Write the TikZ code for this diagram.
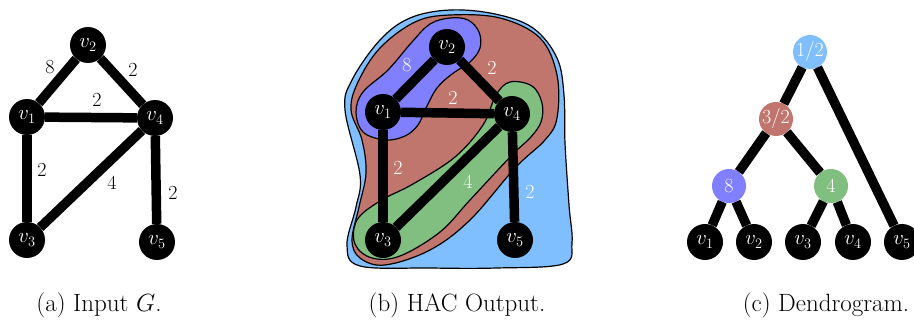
\documentclass[tikz,border=0pt]{standalone}
\usetikzlibrary{calc}
\definecolor{cblue}{HTML}{80BFFF}
\definecolor{cred}{HTML}{C0766C}
\definecolor{cpurp}{HTML}{7F7FFF}
\definecolor{cgreen}{HTML}{80BF7F}
\tikzset{
  vert/.style={circle, fill=black, minimum size=36pt, inner sep=0pt, text=white, font=\fontsize{21}{21}\selectfont},
  dnode/.style={circle, minimum size=34pt, inner sep=0pt, text=white, font=\fontsize{20}{20}\selectfont},
  ebar/.style={line width=9.5pt},
  elab/.style={font=\fontsize{20}{20}\selectfont, inner sep=0pt},
  wlab/.style={elab, text=white},
  region/.style={draw=black, line width=1.2pt},
  captext/.style={font=\fontsize{25}{28}\selectfont, inner sep=0pt}
}
\begin{document}
\begin{tikzpicture}[x=1pt, y=-1pt]
\useasboundingbox (0,0) rectangle (914,326);
% ---------- (a) ----------
\node[vert] (a2) at (88,45) {$v_2$};
\node[vert] (a1) at (27,117) {$v_1$};
\node[vert] (a4) at (155,118) {$v_4$};
\node[vert] (a3) at (27,240) {$v_3$};
\node[vert] (a5) at (157,242) {$v_5$};
\draw[ebar] (a1) -- (a2);
\draw[ebar] (a2) -- (a4);
\draw[ebar] (a1) -- (a4);
\draw[ebar] (a1) -- (a3);
\draw[ebar] (a3) -- (a4);
\draw[ebar] (a4) -- (a5);
\node[elab] (la8) at (50,67) {8};
\node[elab] (la24) at (133,70) {2};
\node[elab] (la14) at (97,100) {2};
\node[elab] (la13) at (42,170) {2};
\node[elab] (la34) at (112,183) {4};
\node[elab] (la45) at (173,193) {2};
% ---------- (b) ----------
\draw[region, fill=cblue] plot[smooth cycle, tension=0.6] coordinates {
 (450,10) (495,14) (533,28) (557,58) (564,95) (565,143) (569,205) (572,243)
 (563,264) (497,268) (430,268) (360,266) (347,245) (356,207) (360,175)
 (345,110) (352,80) (380,40) (410,18)};
\draw[region, fill=cred] plot[smooth cycle, tension=0.6] coordinates {
 (450,15) (500,18) (540,38) (557,75) (557,118) (545,140) (515,168)
 (470,220) (430,250) (385,265) (360,258) (352,240) (359,207) (366,173)
 (362,140) (351,110) (358,82) (380,48) (415,22)};
\draw[region, fill=cpurp] plot[smooth cycle, tension=0.6] coordinates {
 (450,18) (468,20) (479,32) (480,48) (470,62) (452,74) (437,88) (426,108)
 (418,125) (405,136) (385,140) (363,132) (356,112) (363,92) (388,70)
 (412,42) (430,24)};
\draw[region, fill=cgreen] plot[smooth cycle, tension=0.6] coordinates {
 (510,82) (532,86) (542,103) (541,122) (530,138) (512,155) (470,200)
 (440,232) (400,256) (372,258) (355,244) (357,220) (380,201) (413,184)
 (455,157) (483,125) (496,95)};
\node[vert] (b2) at (447,47) {$v_2$};
\node[vert] (b1) at (383,112) {$v_1$};
\node[vert] (b4) at (512,114) {$v_4$};
\node[vert] (b3) at (383,240) {$v_3$};
\node[vert] (b5) at (515,240) {$v_5$};
\draw[ebar] (b1) -- (b2);
\draw[ebar] (b2) -- (b4);
\draw[ebar] (b1) -- (b4);
\draw[ebar] (b1) -- (b3);
\draw[ebar] (b3) -- (b4);
\draw[ebar] (b4) -- (b5);
\node[wlab] (lb8) at (407,65) {8};
\node[wlab] (lb24) at (492,68) {2};
\node[wlab] (lb14) at (453,98) {2};
\node[wlab] (lb13) at (398,168) {2};
\node[wlab] (lb34) at (468,182) {4};
\node[wlab] (lb45) at (530,192) {2};
% ---------- (c) ----------
\node[dnode, fill=cblue] (r) at (810,52) {1/2};
\node[dnode, fill=cred] (m) at (776,119) {3/2};
\node[dnode, fill=cpurp] (p) at (729,186) {8};
\node[dnode, fill=cgreen] (g) at (831,186) {4};
\node[vert] (c1) at (705,242) {$v_1$};
\node[vert] (c2) at (754,242) {$v_2$};
\node[vert] (c3) at (803,242) {$v_3$};
\node[vert] (c4) at (853,242) {$v_4$};
\node[vert] (c5) at (902,242) {$v_5$};
\draw[ebar] (r) -- (m);
\draw[ebar] (r) -- (c5);
\draw[ebar] (m) -- (p);
\draw[ebar] (m) -- (g);
\draw[ebar] (p) -- (c1);
\draw[ebar] (p) -- (c2);
\draw[ebar] (g) -- (c3);
\draw[ebar] (g) -- (c4);
% ---------- captions ----------
\node[captext] (ca) at (99,305) {(a) Input $G$.};
\node[captext] (cb) at (457,305) {(b) HAC Output.};
\node[captext] (cc) at (826,305) {(c) Dendrogram.};
\end{tikzpicture}
\end{document}
